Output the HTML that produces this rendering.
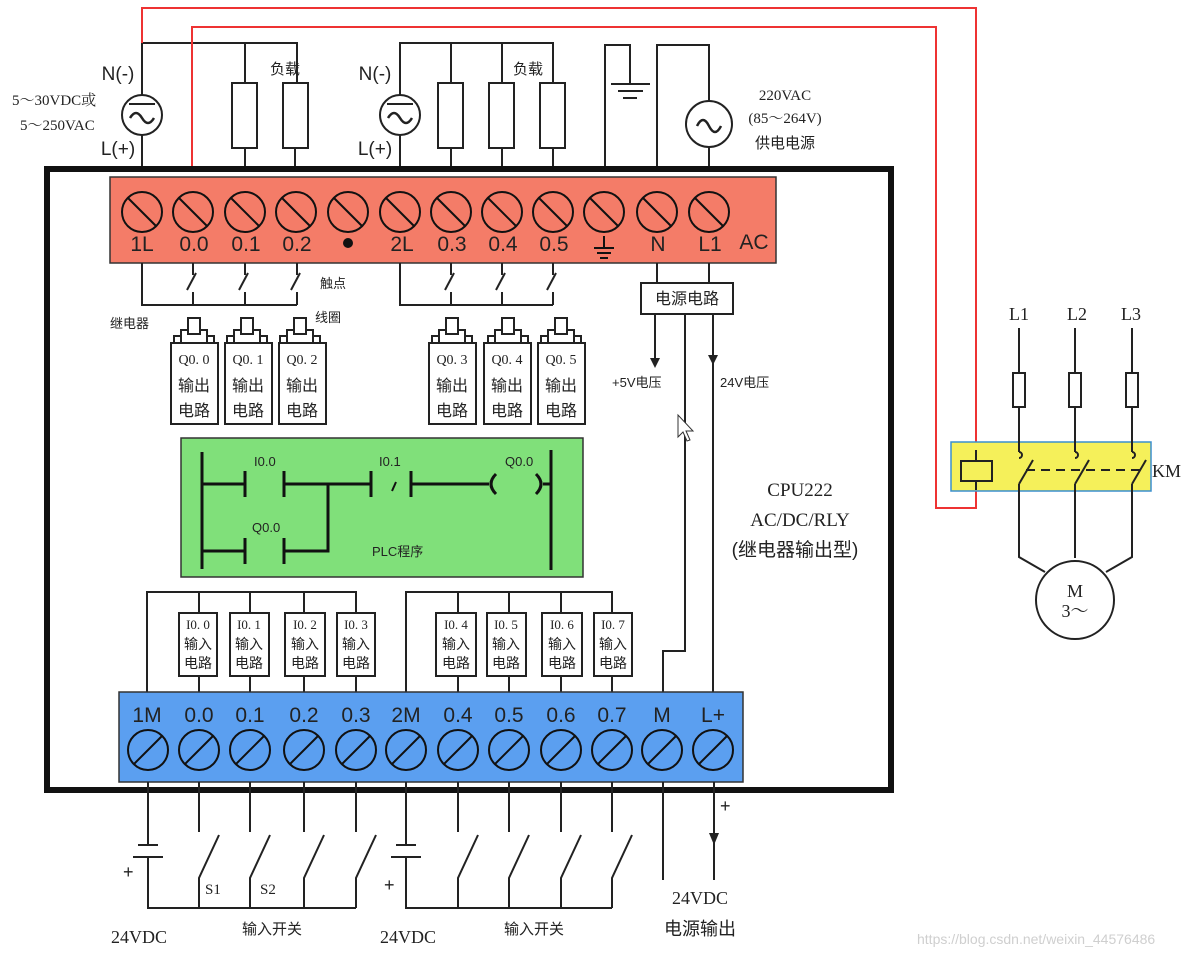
<!DOCTYPE html>
<html><head><meta charset="utf-8"><style>
html,body{margin:0;padding:0;background:#fff;}
svg{display:block;}
text{font-family:"Liberation Sans","Noto Sans CJK SC",sans-serif;fill:#222;}
.s{font-family:"Liberation Serif","Noto Serif CJK SC",serif;}
</style></head><body>
<svg width="1198" height="957" viewBox="0 0 1198 957" xmlns="http://www.w3.org/2000/svg">
<rect width="1198" height="957" fill="#fff"/>
<g fill="none" stroke="#222" stroke-width="2">
<!-- top wiring group 1 -->
<polyline points="142,168 142,43 297,43 297,83"/>
<line x1="245" y1="43" x2="245" y2="83"/>
<rect x="232" y="83" width="25" height="65"/>
<rect x="283" y="83" width="25" height="65"/>
<line x1="245" y1="148" x2="245" y2="168"/>
<line x1="295" y1="148" x2="295" y2="168"/>
<circle cx="142" cy="115" r="20" fill="#fff"/>
<line x1="129" y1="104" x2="155" y2="104"/>
<path d="M130,118 q6,-10 12,0 t12,0" stroke-width="2.5"/>
<!-- group 2 -->
<polyline points="400,168 400,43 553,43 553,83"/>
<line x1="451" y1="43" x2="451" y2="83"/>
<line x1="502" y1="43" x2="502" y2="83"/>
<rect x="438" y="83" width="25" height="65"/>
<rect x="489" y="83" width="25" height="65"/>
<rect x="540" y="83" width="25" height="65"/>
<line x1="451" y1="148" x2="451" y2="168"/><line x1="502" y1="148" x2="502" y2="168"/><line x1="553" y1="148" x2="553" y2="168"/>
<circle cx="400" cy="115" r="20" fill="#fff"/>
<line x1="387" y1="104" x2="413" y2="104"/>
<path d="M388,118 q6,-10 12,0 t12,0" stroke-width="2.5"/>
<!-- ground & AC -->
<polyline points="605,168 605,45 630,45 630,83"/>
<line x1="611" y1="84" x2="650" y2="84"/><line x1="618" y1="91" x2="643" y2="91"/><line x1="623" y1="98" x2="637" y2="98"/>
<polyline points="657,168 657,45 709,45 709,168"/>
<circle cx="709" cy="124" r="23" fill="#fff"/>
<path d="M697,126 q6,-12 12,0 t12,0" stroke-width="2.5"/>
</g>
<!-- red wires -->
<g fill="none" stroke="#e33" stroke-width="2">
<polyline points="142,43 142,8 976,8 976,450"/>
<polyline points="192,168 192,27 936,27 936,508 976,508 976,490"/>
</g>
<!-- main box -->
<rect x="47" y="169" width="844" height="621" fill="none" stroke="#111" stroke-width="6"/>
<!-- red bar -->
<rect x="110" y="177" width="666" height="86" fill="#f47c68" stroke="#333" stroke-width="1.5"/>
<g fill="none" stroke="#111" stroke-width="2">
<circle cx="142" cy="212" r="20"/><line x1="128" y1="198" x2="156" y2="226"/>
<circle cx="193" cy="212" r="20"/><line x1="179" y1="198" x2="207" y2="226"/>
<circle cx="245" cy="212" r="20"/><line x1="231" y1="198" x2="259" y2="226"/>
<circle cx="296" cy="212" r="20"/><line x1="282" y1="198" x2="310" y2="226"/>
<circle cx="348" cy="212" r="20"/><line x1="334" y1="198" x2="362" y2="226"/>
<circle cx="400" cy="212" r="20"/><line x1="386" y1="198" x2="414" y2="226"/>
<circle cx="451" cy="212" r="20"/><line x1="437" y1="198" x2="465" y2="226"/>
<circle cx="502" cy="212" r="20"/><line x1="488" y1="198" x2="516" y2="226"/>
<circle cx="553" cy="212" r="20"/><line x1="539" y1="198" x2="567" y2="226"/>
<circle cx="604" cy="212" r="20"/><line x1="590" y1="198" x2="618" y2="226"/>
<circle cx="657" cy="212" r="20"/><line x1="643" y1="198" x2="671" y2="226"/>
<circle cx="709" cy="212" r="20"/><line x1="695" y1="198" x2="723" y2="226"/>
<line x1="604" y1="236" x2="604" y2="248"/><line x1="594" y1="248" x2="614" y2="248"/><line x1="597" y1="253" x2="611" y2="253"/><line x1="600" y1="258" x2="608" y2="258"/>
</g>
<circle cx="348" cy="243" r="5" fill="#111"/>
<g font-size="21" text-anchor="middle">
<text x="142" y="251">1L</text><text x="194" y="251">0.0</text><text x="246" y="251">0.1</text><text x="297" y="251">0.2</text>
<text x="402" y="251">2L</text><text x="452" y="251">0.3</text><text x="503" y="251">0.4</text><text x="554" y="251">0.5</text>
<text x="658" y="251">N</text><text x="710" y="251">L1</text><text x="754" y="249">AC</text>
</g>
<!-- labels top -->
<g font-size="19" text-anchor="middle"><text x="118" y="80">N(-)</text><text x="118" y="155">L(+)</text><text x="375" y="80">N(-)</text><text x="375" y="155">L(+)</text></g>
<g font-size="15" class="s"><text class="s" x="12" y="105">5～30VDC或</text><text class="s" x="20" y="130">5～250VAC</text>
<text x="270" y="74">负载</text><text x="513" y="74">负载</text>
<text class="s" x="785" y="100" text-anchor="middle">220VAC</text><text class="s" x="785" y="123" text-anchor="middle">(85～264V)</text><text x="785" y="148" text-anchor="middle">供电电源</text></g>
<!-- output contacts -->
<g fill="none" stroke="#222" stroke-width="2">
<polyline points="142,263 142,305 297,305"/>
<polyline points="193,263 193,275"/><line x1="187" y1="290" x2="196" y2="273"/><line x1="193" y1="292" x2="193" y2="305"/>
<polyline points="245,263 245,275"/><line x1="239" y1="290" x2="248" y2="273"/><line x1="245" y1="292" x2="245" y2="305"/>
<polyline points="297,263 297,275"/><line x1="291" y1="290" x2="300" y2="273"/><line x1="297" y1="292" x2="297" y2="305"/>
<polyline points="400,263 400,305 553,305"/>
<polyline points="451,263 451,275"/><line x1="445" y1="290" x2="454" y2="273"/><line x1="451" y1="292" x2="451" y2="305"/>
<polyline points="502,263 502,275"/><line x1="496" y1="290" x2="505" y2="273"/><line x1="502" y1="292" x2="502" y2="305"/>
<polyline points="553,263 553,275"/><line x1="547" y1="290" x2="556" y2="273"/><line x1="553" y1="292" x2="553" y2="305"/>
<!-- coils -->
<rect x="188" y="318" width="12" height="16"/><path d="M181,343 V330 H188 M200,330 H207 V343 M174,343 V336 H181 M207,336 H214 V343"/>
<rect x="241" y="318" width="12" height="16"/><path d="M234,343 V330 H241 M253,330 H260 V343 M227,343 V336 H234 M260,336 H267 V343"/>
<rect x="294" y="318" width="12" height="16"/><path d="M287,343 V330 H294 M306,330 H313 V343 M280,343 V336 H287 M313,336 H320 V343"/>
<rect x="446" y="318" width="12" height="16"/><path d="M439,343 V330 H446 M458,330 H465 V343 M432,343 V336 H439 M465,336 H472 V343"/>
<rect x="502" y="318" width="12" height="16"/><path d="M495,343 V330 H502 M514,330 H521 V343 M488,343 V336 H495 M521,336 H528 V343"/>
<rect x="555" y="318" width="12" height="16"/><path d="M548,343 V330 H555 M567,330 H574 V343 M541,343 V336 H548 M574,336 H581 V343"/>
<rect x="171" y="343" width="47" height="81" fill="#fff"/>
<rect x="225" y="343" width="47" height="81" fill="#fff"/>
<rect x="279" y="343" width="47" height="81" fill="#fff"/>
<rect x="429" y="343" width="47" height="81" fill="#fff"/>
<rect x="484" y="343" width="47" height="81" fill="#fff"/>
<rect x="538" y="343" width="47" height="81" fill="#fff"/>
<!-- power circuit -->
<line x1="657" y1="263" x2="657" y2="283"/><line x1="709" y1="263" x2="709" y2="283"/>
<rect x="641" y="283" width="92" height="31" fill="#fff"/>
<line x1="655" y1="314" x2="655" y2="360"/>
<polyline points="685,314 685,651 663,651 663,692"/>
<line x1="713" y1="314" x2="713" y2="692"/>
</g>
<path d="M650,358 L660,358 L655,368 Z M708,355 L718,355 L713,365 Z" fill="#222"/>
<g font-size="14" class="s" text-anchor="middle">
<text x="194" y="364" class="s">Q0. 0</text><text x="248" y="364" class="s">Q0. 1</text><text x="302" y="364" class="s">Q0. 2</text>
<text x="452" y="364" class="s">Q0. 3</text><text x="507" y="364" class="s">Q0. 4</text><text x="561" y="364" class="s">Q0. 5</text>
</g>
<g font-size="16" text-anchor="middle">
<text x="194" y="391">输出</text><text x="248" y="391">输出</text><text x="302" y="391">输出</text><text x="452" y="391">输出</text><text x="507" y="391">输出</text><text x="561" y="391">输出</text>
<text x="194" y="416">电路</text><text x="248" y="416">电路</text><text x="302" y="416">电路</text><text x="452" y="416">电路</text><text x="507" y="416">电路</text><text x="561" y="416">电路</text>
<text x="687" y="304">电源电路</text>
</g>
<g font-size="13"><text x="320" y="288">触点</text><text x="110" y="328">继电器</text><text x="315" y="322">线圈</text><text x="612" y="387">+5V电压</text><text x="720" y="387">24V电压</text></g>
<!-- cursor -->
<path d="M678,415 L678,437 L683,432 L687,441 L690,440 L686,431 L693,431 Z" fill="#fff" stroke="#333" stroke-width="1"/>
<!-- green PLC program -->
<rect x="181" y="438" width="402" height="139" fill="#80e07a" stroke="#333" stroke-width="1.5"/>
<g fill="none" stroke="#111" stroke-width="3">
<line x1="202" y1="452" x2="202" y2="569"/>
<line x1="551" y1="450" x2="551" y2="570"/>
<line x1="202" y1="484" x2="245" y2="484"/><line x1="245" y1="471" x2="245" y2="497"/><line x1="284" y1="471" x2="284" y2="497"/>
<line x1="284" y1="484" x2="371" y2="484"/><line x1="371" y1="471" x2="371" y2="497"/><line x1="411" y1="471" x2="411" y2="497"/>
<line x1="392" y1="491" x2="396" y2="482" stroke-width="2"/>
<line x1="411" y1="484" x2="489" y2="484"/>
<path d="M496,474 Q486,484 496,494"/><path d="M536,474 Q546,484 536,494"/><line x1="543" y1="484" x2="551" y2="484"/>
<line x1="202" y1="551" x2="245" y2="551"/><line x1="245" y1="538" x2="245" y2="564"/><line x1="284" y1="538" x2="284" y2="564"/>
<polyline points="284,551 328,551 328,484"/>
</g>
<g font-size="13"><text x="254" y="466">I0.0</text><text x="379" y="466">I0.1</text><text x="505" y="466">Q0.0</text><text x="252" y="532">Q0.0</text><text x="372" y="556">PLC程序</text></g>
<g font-size="19" class="s" text-anchor="middle"><text x="800" y="496" class="s">CPU222</text><text x="800" y="526" class="s">AC/DC/RLY</text><text x="795" y="556">(继电器输出型)</text></g>
<!-- input circuits -->
<g fill="none" stroke="#222" stroke-width="2">
<polyline points="147,692 147,592 356,592 356,692"/>
<line x1="199" y1="592" x2="199" y2="692"/><line x1="250" y1="592" x2="250" y2="692"/><line x1="304" y1="592" x2="304" y2="692"/>
<polyline points="406,692 406,592 612,592 612,692"/>
<line x1="458" y1="592" x2="458" y2="692"/><line x1="509" y1="592" x2="509" y2="692"/><line x1="561" y1="592" x2="561" y2="692"/>
<rect x="179" y="613" width="38" height="63" fill="#fff"/><rect x="230" y="613" width="39" height="63" fill="#fff"/><rect x="285" y="613" width="40" height="63" fill="#fff"/><rect x="337" y="613" width="38" height="63" fill="#fff"/>
<rect x="436" y="613" width="40" height="63" fill="#fff"/><rect x="487" y="613" width="39" height="63" fill="#fff"/><rect x="542" y="613" width="40" height="63" fill="#fff"/><rect x="594" y="613" width="38" height="63" fill="#fff"/>
</g>
<g font-size="13" class="s" text-anchor="middle">
<text x="198" y="629" class="s">I0. 0</text><text x="249" y="629" class="s">I0. 1</text><text x="305" y="629" class="s">I0. 2</text><text x="356" y="629" class="s">I0. 3</text>
<text x="456" y="629" class="s">I0. 4</text><text x="506" y="629" class="s">I0. 5</text><text x="562" y="629" class="s">I0. 6</text><text x="613" y="629" class="s">I0. 7</text>
</g>
<g font-size="14" text-anchor="middle">
<text x="198" y="649">输入</text><text x="249" y="649">输入</text><text x="305" y="649">输入</text><text x="356" y="649">输入</text><text x="456" y="649">输入</text><text x="506" y="649">输入</text><text x="562" y="649">输入</text><text x="613" y="649">输入</text>
<text x="198" y="668">电路</text><text x="249" y="668">电路</text><text x="305" y="668">电路</text><text x="356" y="668">电路</text><text x="456" y="668">电路</text><text x="506" y="668">电路</text><text x="562" y="668">电路</text><text x="613" y="668">电路</text>
</g>
<!-- blue bar -->
<rect x="119" y="692" width="624" height="90" fill="#5b9ff0" stroke="#333" stroke-width="1.5"/>
<g font-size="21" text-anchor="middle">
<text x="147" y="722">1M</text><text x="199" y="722">0.0</text><text x="250" y="722">0.1</text><text x="304" y="722">0.2</text><text x="356" y="722">0.3</text><text x="406" y="722">2M</text>
<text x="458" y="722">0.4</text><text x="509" y="722">0.5</text><text x="561" y="722">0.6</text><text x="612" y="722">0.7</text><text x="662" y="722">M</text><text x="713" y="722">L+</text>
</g>
<g fill="none" stroke="#111" stroke-width="2">
<circle cx="148" cy="750" r="20"/><line x1="134" y1="764" x2="162" y2="736"/>
<circle cx="199" cy="750" r="20"/><line x1="185" y1="764" x2="213" y2="736"/>
<circle cx="250" cy="750" r="20"/><line x1="236" y1="764" x2="264" y2="736"/>
<circle cx="304" cy="750" r="20"/><line x1="290" y1="764" x2="318" y2="736"/>
<circle cx="356" cy="750" r="20"/><line x1="342" y1="764" x2="370" y2="736"/>
<circle cx="406" cy="750" r="20"/><line x1="392" y1="764" x2="420" y2="736"/>
<circle cx="458" cy="750" r="20"/><line x1="444" y1="764" x2="472" y2="736"/>
<circle cx="509" cy="750" r="20"/><line x1="495" y1="764" x2="523" y2="736"/>
<circle cx="561" cy="750" r="20"/><line x1="547" y1="764" x2="575" y2="736"/>
<circle cx="612" cy="750" r="20"/><line x1="598" y1="764" x2="626" y2="736"/>
<circle cx="662" cy="750" r="20"/><line x1="648" y1="764" x2="676" y2="736"/>
<circle cx="713" cy="750" r="20"/><line x1="699" y1="764" x2="727" y2="736"/>
</g>
<!-- bottom wiring -->
<g fill="none" stroke="#222" stroke-width="2">
<line x1="148" y1="782" x2="148" y2="845"/><line x1="138" y1="845" x2="158" y2="845"/><line x1="133" y1="857" x2="163" y2="857"/>
<polyline points="148,857 148,908 356,908"/>
<path d="M199,782 V832 M199,908 V878 L219,835"/>
<path d="M250,782 V832 M250,908 V878 L270,835"/>
<path d="M304,782 V832 M304,908 V878 L324,835"/>
<path d="M356,782 V832 M356,908 V878 L376,835"/>
<line x1="406" y1="782" x2="406" y2="845"/><line x1="396" y1="845" x2="416" y2="845"/><line x1="391" y1="857" x2="421" y2="857"/>
<polyline points="406,857 406,908 612,908"/>
<path d="M458,782 V832 M458,908 V878 L478,835"/>
<path d="M509,782 V832 M509,908 V878 L529,835"/>
<path d="M561,782 V832 M561,908 V878 L581,835"/>
<path d="M612,782 V832 M612,908 V878 L632,835"/>
<line x1="663" y1="782" x2="663" y2="880"/>
<line x1="714" y1="782" x2="714" y2="880"/>
</g>
<path d="M709,833 L719,833 L714,845 Z" fill="#222"/>
<g font-size="18"><text x="123" y="878">+</text><text x="384" y="891">+</text><text x="720" y="812">+</text></g>
<g font-size="15" class="s"><text x="205" y="894" class="s">S1</text><text x="260" y="894" class="s">S2</text></g>
<g font-size="18" class="s" text-anchor="middle"><text x="139" y="943" class="s">24VDC</text><text x="408" y="943" class="s">24VDC</text><text x="700" y="904" class="s">24VDC</text><text x="700" y="935">电源输出</text></g>
<g font-size="15" text-anchor="middle"><text x="272" y="934">输入开关</text><text x="534" y="934">输入开关</text></g>
<!-- motor circuit -->
<rect x="951" y="442" width="200" height="49" fill="#f5f05a" stroke="#3a8fd0" stroke-width="1.5"/>
<g fill="none" stroke="#222" stroke-width="2">
<line x1="976" y1="450" x2="976" y2="461"/><rect x="961" y="461" width="31" height="20"/><line x1="976" y1="481" x2="976" y2="490"/>
<line x1="1019" y1="328" x2="1019" y2="452"/><line x1="1075" y1="328" x2="1075" y2="452"/><line x1="1132" y1="328" x2="1132" y2="452"/>
<rect x="1013" y="373" width="12" height="34" fill="#fff"/><rect x="1069" y="373" width="12" height="34" fill="#fff"/><rect x="1126" y="373" width="12" height="34" fill="#fff"/>
<path d="M1019,452 a3,3 0 0 1 0,6 M1075,452 a3,3 0 0 1 0,6 M1132,452 a3,3 0 0 1 0,6"/>
<path d="M1019,484 L1033,460 M1075,484 L1089,460 M1132,484 L1146,460"/>
<line x1="1026" y1="470" x2="1140" y2="470" stroke-dasharray="9,6"/>
<path d="M1019,484 V557 L1045,572 M1075,484 V558 M1132,484 V557 L1106,572"/>
<circle cx="1075" cy="600" r="39" fill="#fff"/>
</g>
<g font-size="18" class="s" text-anchor="middle"><text x="1019" y="320" class="s">L1</text><text x="1077" y="320" class="s">L2</text><text x="1131" y="320" class="s">L3</text>
<text x="1075" y="597" class="s">M</text><text x="1075" y="617" class="s">3～</text></g>
<text x="1152" y="477" font-size="18" class="s">KM</text>
<text x="917" y="944" font-size="14" fill="#ccc" style="fill:#cfcfcf">https://blog.csdn.net/weixin_44576486</text>
</svg>
</body></html>
